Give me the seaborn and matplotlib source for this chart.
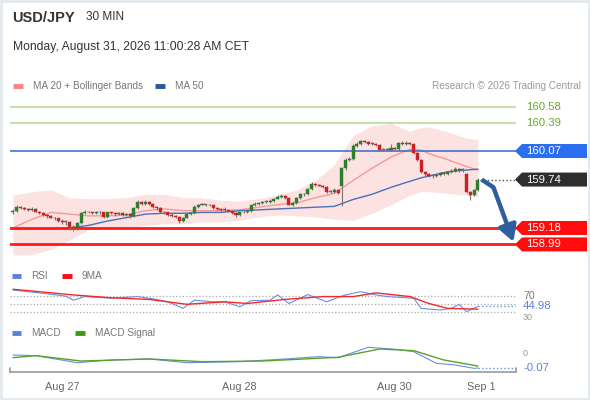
import matplotlib
matplotlib.use("Agg")
import matplotlib.pyplot as plt
from matplotlib.patches import Polygon, Rectangle
import numpy as np
import seaborn as sns

sns.set_theme(style="white")
plt.rcParams["font.family"] = ["Liberation Sans", "DejaVu Sans"]

# ローソク足 (30分足, 左から順に)
opens = [
    159.36, 159.38, 159.42, 159.41, 159.40, 159.39, 159.40, 159.37, 159.35, 159.33,
    159.32, 159.30, 159.29, 159.26, 159.25, 159.25, 159.19, 159.18, 159.24, 159.35,
    159.37, 159.36, 159.35, 159.36, 159.36, 159.31, 159.36, 159.35, 159.34, 159.35,
    159.33, 159.34, 159.32, 159.41, 159.48, 159.46, 159.48, 159.46, 159.42, 159.41,
    159.36, 159.36, 159.33, 159.32, 159.31, 159.26, 159.30, 159.34, 159.35, 159.42,
    159.45, 159.45, 159.45, 159.44, 159.41, 159.40, 159.39, 159.39, 159.38, 159.35,
    159.33, 159.36, 159.36, 159.38, 159.44, 159.46, 159.47, 159.48, 159.48, 159.49,
    159.52, 159.54, 159.55, 159.53, 159.45, 159.47, 159.53, 159.57, 159.57, 159.63,
    159.69, 159.68, 159.67, 159.65, 159.60, 159.60, 159.62, 159.66, 159.87, 159.97,
    159.98, 160.13, 160.15, 160.19, 160.17, 160.15, 160.15, 160.14, 160.08, 160.08,
    160.08, 160.10, 160.09, 160.16, 160.15, 160.16, 160.15, 160.05, 159.97, 159.83,
    159.80, 159.78, 159.78, 159.79, 159.82, 159.80, 159.83, 159.84, 159.86, 159.85,
    159.80, 159.60, 159.56, 159.62,
]
closes = [
    159.38, 159.42, 159.41, 159.40, 159.39, 159.40, 159.37, 159.35, 159.33, 159.32,
    159.30, 159.29, 159.26, 159.25, 159.25, 159.19, 159.18, 159.24, 159.35, 159.37,
    159.36, 159.35, 159.36, 159.36, 159.31, 159.36, 159.35, 159.34, 159.35, 159.33,
    159.34, 159.32, 159.41, 159.48, 159.46, 159.48, 159.46, 159.42, 159.41, 159.36,
    159.36, 159.33, 159.32, 159.31, 159.26, 159.30, 159.34, 159.35, 159.42, 159.45,
    159.45, 159.45, 159.44, 159.41, 159.40, 159.39, 159.39, 159.38, 159.35, 159.33,
    159.36, 159.36, 159.38, 159.44, 159.46, 159.47, 159.48, 159.48, 159.49, 159.52,
    159.54, 159.55, 159.53, 159.45, 159.47, 159.53, 159.57, 159.57, 159.63, 159.69,
    159.68, 159.67, 159.65, 159.60, 159.60, 159.62, 159.59, 159.87, 159.97, 159.98,
    160.13, 160.15, 160.19, 160.17, 160.15, 160.15, 160.14, 160.08, 160.08, 160.08,
    160.10, 160.09, 160.16, 160.15, 160.16, 160.15, 160.05, 159.97, 159.83, 159.80,
    159.78, 159.78, 159.79, 159.82, 159.80, 159.83, 159.84, 159.86, 159.85, 159.85,
    159.60, 159.56, 159.62, 159.74,
]
highs = [
    159.40, 159.44, 159.43, 159.42, 159.41, 159.42, 159.41, 159.38, 159.36, 159.34,
    159.33, 159.31, 159.30, 159.28, 159.27, 159.26, 159.21, 159.25, 159.37, 159.39,
    159.38, 159.37, 159.38, 159.38, 159.37, 159.37, 159.37, 159.36, 159.36, 159.36,
    159.35, 159.35, 159.42, 159.50, 159.49, 159.50, 159.49, 159.47, 159.43, 159.42,
    159.38, 159.37, 159.35, 159.33, 159.32, 159.31, 159.35, 159.36, 159.44, 159.46,
    159.47, 159.46, 159.46, 159.45, 159.42, 159.41, 159.42, 159.40, 159.39, 159.36,
    159.37, 159.38, 159.39, 159.45, 159.48, 159.48, 159.49, 159.50, 159.51, 159.53,
    159.56, 159.57, 159.56, 159.54, 159.49, 159.54, 159.58, 159.59, 159.64, 159.71,
    159.70, 159.69, 159.68, 159.66, 159.62, 159.64, 159.63, 159.89, 159.99, 160.00,
    160.15, 160.17, 160.20, 160.20, 160.18, 160.17, 160.16, 160.15, 160.10, 160.11,
    160.15, 160.12, 160.17, 160.18, 160.18, 160.17, 160.16, 160.06, 159.98, 159.84,
    159.81, 159.80, 159.81, 159.83, 159.83, 159.84, 159.86, 159.88, 159.87, 159.87,
    159.81, 159.61, 159.63, 159.76,
]
lows = [
    159.34, 159.37, 159.40, 159.39, 159.38, 159.38, 159.36, 159.34, 159.32, 159.30,
    159.29, 159.27, 159.25, 159.23, 159.22, 159.16, 159.15, 159.16, 159.23, 159.34,
    159.35, 159.34, 159.34, 159.34, 159.30, 159.30, 159.34, 159.32, 159.33, 159.32,
    159.32, 159.30, 159.31, 159.40, 159.45, 159.45, 159.44, 159.41, 159.39, 159.35,
    159.34, 159.32, 159.31, 159.29, 159.24, 159.25, 159.29, 159.33, 159.34, 159.41,
    159.44, 159.43, 159.43, 159.40, 159.39, 159.38, 159.37, 159.37, 159.34, 159.31,
    159.32, 159.35, 159.35, 159.37, 159.43, 159.45, 159.46, 159.47, 159.47, 159.48,
    159.51, 159.53, 159.52, 159.44, 159.43, 159.46, 159.52, 159.55, 159.56, 159.62,
    159.66, 159.66, 159.64, 159.59, 159.58, 159.59, 159.57, 159.43, 159.85, 159.95,
    159.97, 160.12, 160.14, 160.16, 160.14, 160.14, 160.13, 160.07, 160.07, 160.07,
    160.07, 160.08, 160.08, 160.14, 160.14, 160.14, 160.04, 159.95, 159.81, 159.78,
    159.77, 159.76, 159.77, 159.78, 159.79, 159.79, 159.82, 159.83, 159.83, 159.83,
    159.58, 159.50, 159.55, 159.61,
]

# MA / ボリンジャーバンド (読み取り値)
band_idx = [0, 5, 10, 15, 20, 25, 30, 35, 40, 45, 50, 55, 60, 65, 70, 75, 80, 85,
            90, 95, 100, 105, 108, 110, 115, 120, 123]
ma20 = [159.18, 159.28, 159.36, 159.34, 159.32, 159.32, 159.33, 159.38, 159.40,
        159.38, 159.38, 159.38, 159.39, 159.42, 159.45, 159.47, 159.53, 159.58,
        159.73, 159.87, 160.00, 160.09, 160.08, 160.04, 159.97, 159.89, 159.85]
ma50 = [159.17, 159.17, 159.17, 159.18, 159.21, 159.26, 159.30, 159.34, 159.35,
        159.35, 159.36, 159.36, 159.38, 159.39, 159.40, 159.41, 159.42, 159.43,
        159.51, 159.57, 159.65, 159.72, 159.76, 159.78, 159.83, 159.85, 159.86]
bb_upper = [159.56, 159.60, 159.62, 159.53, 159.52, 159.52, 159.53, 159.57, 159.57,
            159.53, 159.53, 159.50, 159.49, 159.52, 159.56, 159.62, 159.73, 159.91,
            160.25, 160.36, 160.39, 160.30, 160.34, 160.35, 160.29, 160.22, 160.20]
bb_lower = [158.87, 158.87, 158.93, 159.04, 159.16, 159.18, 159.18, 159.21, 159.23,
            159.23, 159.25, 159.25, 159.27, 159.31, 159.33, 159.32, 159.31, 159.28,
            159.27, 159.35, 159.45, 159.56, 159.60, 159.60, 159.58, 159.56, 159.54]

# 水平ライン
resist_levels = [160.58, 160.39]
pivot_level = 160.07
support_levels = [159.18, 158.99]
last_price = 159.74

# RSI
rsi_idx = [0, 8, 14, 16, 19, 26, 33, 38, 41, 45, 48, 53, 56, 60, 63, 68, 70, 73,
           78, 83, 86, 88, 92, 96, 99, 106, 108, 113, 116, 118, 120, 123]
rsi = [85, 77, 70, 60, 69, 65, 69, 62, 56, 40, 60, 56, 56, 44, 59, 60, 73, 52,
       74, 56, 67, 73, 81, 73, 69, 65, 40, 36, 40, 50, 32, 44.98]
rsi_ma_idx = [0, 16, 26, 36, 46, 56, 62, 72, 82, 90, 96, 105, 110, 115, 123]
rsi_ma = [87, 73, 66, 62, 50, 56, 52, 62, 69, 69, 78, 69, 52, 40, 38]

# MACD
macd_idx = [0, 6, 17, 26, 36, 46, 60, 72, 81, 86, 94, 101, 106, 112, 117, 122, 123]
macd = [0.031, 0.026, -0.029, -0.008, 0.0, -0.029, -0.021, 0.0, 0.018, 0.010,
        0.091, 0.076, 0.057, -0.034, -0.047, -0.073, -0.07]
signal_idx = [0, 6, 18, 36, 50, 66, 86, 97, 106, 114, 123]
signal = [0.010, 0.026, -0.016, 0.0, -0.021, -0.016, 0.013, 0.078, 0.065, -0.008, -0.055]

date_ticks = [13, 60, 101, 124]
date_labels = ["Aug 27", "Aug 28", "Aug 30", "Sep 1"]

GREEN = "#2f7d2f"
RED = "#c82222"
BLUE_LINE = "#6a8ee6"
XLIM = (-0.79, 133.07)

fig = plt.figure(figsize=(5.9, 4.0), dpi=100)

# 全体用の透明オーバーレイ (ピクセル座標)
ov = fig.add_axes([0, 0, 1, 1])
ov.set_xlim(0, 590)
ov.set_ylim(400, 0)
ov.axis("off")


def panel(top, bottom):
    a = fig.add_axes([10 / 590, 1 - bottom / 400, 506 / 590, (bottom - top) / 400])
    a.set_facecolor("none")
    a.set_xlim(*XLIM)
    return a


ax = panel(98, 256)
ax.set_ylim(158.856, 160.683)
ax.axis("off")

ax.fill_between(band_idx, bb_lower, bb_upper, color="#fde2e2", lw=0, zorder=1)
sns.lineplot(x=band_idx, y=ma20, ax=ax, color="#f39a9a", lw=1.0, legend=False, zorder=2)
sns.lineplot(x=band_idx, y=ma50, ax=ax, color="#4a70b8", lw=1.0, legend=False, zorder=2)

for lv in resist_levels:
    ax.axhline(lv, color="#c9e0a8", lw=1.5, zorder=2)
ax.axhline(pivot_level, color="#3567c8", lw=1.1, zorder=2)
for lv in support_levels:
    ax.axhline(lv, color="#ff1a1a", lw=2.0, zorder=2)

# ローソク足
idx = np.arange(len(closes))
o = np.array(opens)
c = np.array(closes)
body_col = np.where(c > o, GREEN, np.where(c < o, RED, "#666666"))
ax.vlines(idx, lows, highs, color="#777777", lw=0.8, zorder=3)
ax.bar(idx, np.maximum(np.abs(c - o), 0.008), bottom=np.minimum(o, c), width=0.8,
       color=body_col, edgecolor=body_col, lw=0.3, zorder=4)

ax.hlines(last_price, idx[-1] + 0.6, XLIM[1], colors="#555555", linestyles=":", lw=1.0)

# 予想矢印
ARROW = "#2d5f9f"
ax.plot([124, 127.1], [159.74, 159.65], color=ARROW, lw=3.2,
        solid_capstyle="butt", clip_on=False, zorder=5)
ax.annotate("", xy=(132.4, 159.02), xytext=(127.1, 159.65), annotation_clip=False,
            arrowprops=dict(arrowstyle="-|>,head_width=0.45,head_length=0.8",
                            color=ARROW, lw=3.2, shrinkA=0, shrinkB=0), zorder=5)

# RSI パネル
ax_r = panel(287, 317)
ax_r.set_ylim(18.8, 92.5)
ax_r.axis("off")
for lv in (70, 50, 30):
    ax_r.axhline(lv, color="#aaaaaa", ls=":", lw=0.9)
sns.lineplot(x=rsi_idx, y=rsi, ax=ax_r, color=BLUE_LINE, lw=0.8, legend=False)
sns.lineplot(x=rsi_ma_idx, y=rsi_ma, ax=ax_r, color="#f02a2a", lw=1.0, legend=False)
ax_r.hlines(rsi[-1], rsi_idx[-1], XLIM[1], colors=BLUE_LINE, linestyles=":", lw=1.0)

# MACD パネル
ax_m = panel(340, 372)
ax_m.set_ylim(-0.1016, 0.148)
sns.lineplot(x=macd_idx, y=macd, ax=ax_m, color=BLUE_LINE, lw=0.8, legend=False)
sns.lineplot(x=signal_idx, y=signal, ax=ax_m, color="#5aa02c", lw=1.0, legend=False)
ax_m.hlines(macd[-1], macd_idx[-1], XLIM[1], colors=BLUE_LINE, linestyles=":", lw=1.0)
for s in ("top", "left", "right"):
    ax_m.spines[s].set_visible(False)
ax_m.spines["bottom"].set_color("#9a9a9a")
ax_m.spines["bottom"].set_linewidth(1.2)
ax_m.set_yticks([])
ax_m.set_xticks(date_ticks)
ax_m.set_xticklabels(date_labels, fontsize=7.8, color="#666666")
ax_m.tick_params(axis="x", length=0, pad=7)
ax_m.set_xlabel("")
ax_m.set_ylabel("")
for xe in XLIM:
    ax_m.axvline(xe, 0, 0.13, color="#9a9a9a", lw=1.2, clip_on=False)


def to_px(a, v):
    return 400 - a.transData.transform((0, v))[1]


def tag(y, text, face):
    pts = [(515, y), (522, y - 7), (587, y - 7), (587, y + 7), (522, y + 7)]
    ov.add_patch(Polygon(pts, closed=True, fc=face, ec="none"))
    ov.text(526, y, text, color="white", va="center", ha="left", fontsize=8.2)


for lv in resist_levels:
    ov.text(526, to_px(ax, lv), f"{lv:.2f}", color="#6aa828", va="center", fontsize=8.2)
tag(to_px(ax, pivot_level), f"{pivot_level:.2f}", "#2a6ff0")
tag(to_px(ax, last_price), f"{last_price:.2f}", "#2e2e2e")
for lv in support_levels:
    tag(to_px(ax, lv), f"{lv:.2f}", "#ff0d0d")

# 右側の目盛り値 (30 と 0 は現在値ラベルの陰に半分隠れる)
ov.text(523, to_px(ax_r, 70), "70", color="#777777", va="center", fontsize=7.6)
ov.text(523, to_px(ax_r, 30) + 5, "30", color="#999999", va="center", fontsize=6.5)
ov.text(523, to_px(ax_r, rsi[-1]), f"{rsi[-1]:.2f}", color="#5b80e0", va="center",
        fontsize=8.2)
ov.text(523, to_px(ax_m, 0) - 5, "0", color="#999999", va="center", fontsize=6.5)
ov.text(523, to_px(ax_m, macd[-1]), f"{macd[-1]:.2f}", color="#5b80e0", va="center",
        fontsize=8.2)

# ヘッダー
ov.text(12, 18, "USD/JPY", fontsize=10.5, fontweight="bold", color="#333333", va="center")
ov.text(86, 17, "30 MIN", fontsize=8.5, color="#333333", va="center")
ov.text(13, 47, "Monday, August 31, 2026 11:00:28 AM CET", fontsize=8.7,
        color="#333333", va="center")
ov.text(581, 86, "Research © 2026 Trading Central", fontsize=7.2, color="#9a9a9a",
        va="center", ha="right")


def legend_item(x, y, color, label, w=10):
    ov.plot([x, x + w], [y, y], color=color, lw=3.5, solid_capstyle="butt")
    ov.text(x + w + 10, y, label, fontsize=7.2, color="#777777", va="center")


legend_item(13, 86, "#ff8080", "MA 20 + Bollinger Bands")
legend_item(155, 86, "#2a5a9e", "MA 50")
legend_item(12, 276, "#5b80e0", "RSI", w=9)
legend_item(62, 276, "#f01010", "9MA")
legend_item(12, 333, "#5b80e0", "MACD", w=9)
legend_item(75, 333, "#3e9a0e", "MACD Signal")

ov.add_patch(Rectangle((1, 1), 588, 398, fill=False, ec="#e4e9ee", lw=2))

fig.savefig("out.png", dpi=100)
